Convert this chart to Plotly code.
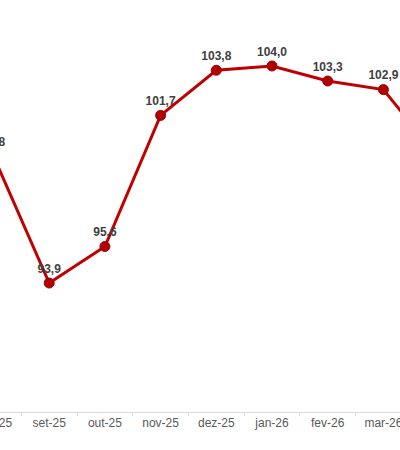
import plotly.graph_objects as go

# dados do gráfico (recorte de um gráfico maior)
meses = ['ago-25', 'set-25', 'out-25', 'nov-25', 'dez-25', 'jan-26', 'fev-26', 'mar-26', 'abr-26']
valores = [99.8, 93.9, 95.6, 101.7, 103.8, 104.0, 103.3, 102.9, 99.7]

rotulos = [f'{v:.1f}'.replace('.', ',') for v in valores]

fig = go.Figure()

fig.add_trace(go.Scatter(
    x=meses,
    y=valores,
    mode='lines+markers+text',
    line=dict(color='#C00000', width=3),
    marker=dict(size=10, color='#B00000', line=dict(color='#A00000', width=1)),
    text=rotulos,
    textposition='top center',
    textfont=dict(family='Liberation Sans, Arial', size=12, color='#404040', weight='bold'),
    showlegend=False
))

# figura mais larga que a janela, deslocada à esquerda (recorte)
fig.update_layout(
    width=520,
    height=450,
    margin=dict(l=0, r=0, t=0, b=38),
    paper_bgcolor='white',
    plot_bgcolor='white',
    font=dict(family='Liberation Sans, Arial'),
)

fig.update_xaxes(
    type='category',
    range=[-0.9605, 8.375],
    tickson='boundaries',
    showgrid=False,
    zeroline=False,
    showline=True,
    linecolor='#D9D9D9',
    linewidth=1,
    ticks='outside',
    ticklen=3,
    tickcolor='#D9D9D9',
    tickfont=dict(size=12, color='#595959'),
)

fig.update_yaxes(
    range=[87.9, 107.07],
    visible=False,
)

fig.write_html(
    'out.html',
    config={'displayModeBar': False},
    post_script=(
        "document.body.style.margin='0';"
        "document.body.style.overflow='hidden';"
        "document.getElementById('{plot_id}').style.marginLeft='-60px';"
    )
)
